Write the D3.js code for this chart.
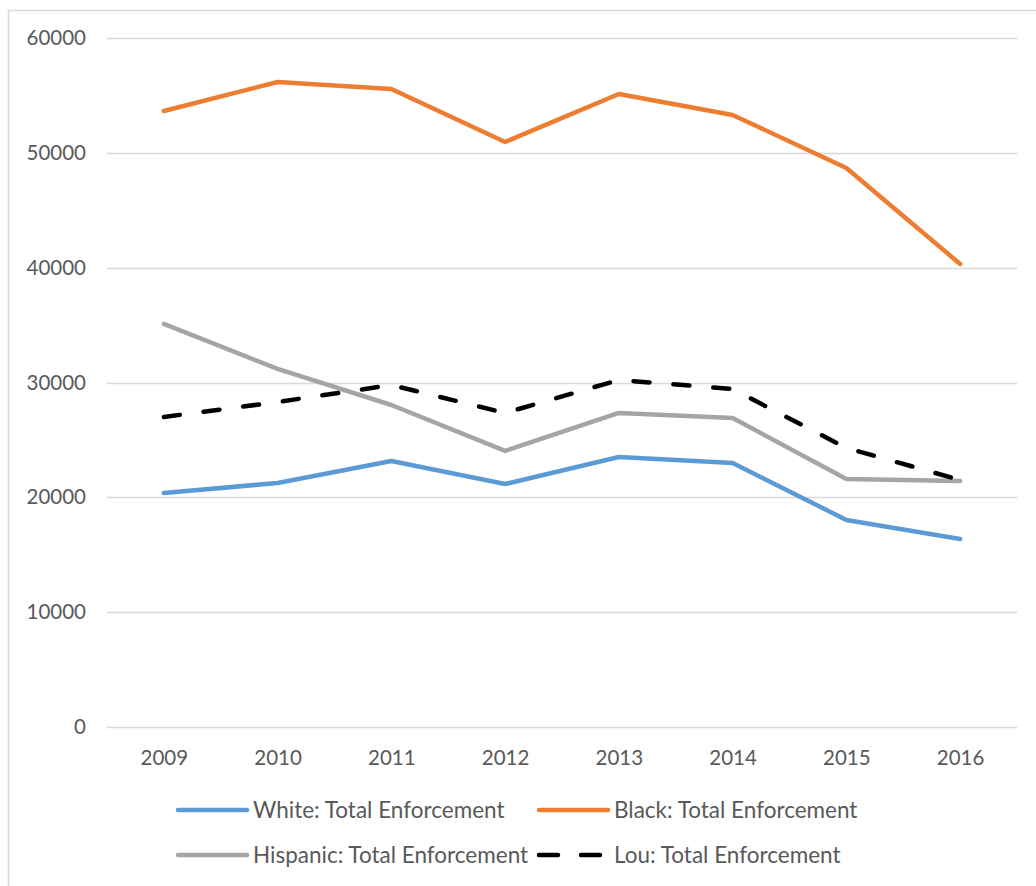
<!DOCTYPE html>
<html>
<head>
<meta charset="utf-8">
<script src="https://cdn.jsdelivr.net/npm/d3@7"></script>
<style>
  html, body { margin: 0; padding: 0; background: #fff; }
  svg { display: block; }
  text { font-family: Lato, "Open Sans", sans-serif; fill: #595959; }
</style>
</head>
<body>
<svg id="chart" width="1036" height="886"></svg>
<script>
// Enforcement counts by year and group
const years = ["2009", "2010", "2011", "2012", "2013", "2014", "2015", "2016"];
const white    = [20380, 21250, 23160, 21160, 23510, 22990, 18030, 16370];
const black    = [53640, 56170, 55560, 50950, 55120, 53300, 48680, 40320];
const hispanic = [35100, 31180, 28040, 24040, 27350, 26910, 21600, 21420];
const lou      = [27000, 28300, 29780, 27350, 30220, 29430, 24300, 21510];
const yTicks   = [0, 10000, 20000, 30000, 40000, 50000, 60000];

const series = [
  { name: "White: Total Enforcement",    values: white,    color: "#5B9BD5", dash: null },
  { name: "Black: Total Enforcement",    values: black,    color: "#ED7D31", dash: null },
  { name: "Hispanic: Total Enforcement", values: hispanic, color: "#A5A5A5", dash: null },
  { name: "Lou: Total Enforcement",      values: lou,      color: "#000000", dash: "16,24" }
];

const svg = d3.select("#chart");
const font = "Lato, 'Open Sans', sans-serif";

// Outer chart border (frame continues past the right and bottom edges)
svg.append("rect")
  .attr("x", 8.5).attr("y", 10.5)
  .attr("width", 1100).attr("height", 1000)
  .attr("fill", "none").attr("stroke", "#D9D9D9").attr("stroke-width", 1.5);

const plot = { left: 107, right: 1017, top: 38, bottom: 727 };

const x = d3.scalePoint().domain(years)
  .range([plot.left, plot.right]).padding(0.5);
const y = d3.scaleLinear().domain([0, 60000]).range([plot.bottom, plot.top]);

// Horizontal gridlines
svg.append("g").selectAll("line").data(yTicks).join("line")
  .attr("x1", plot.left).attr("x2", plot.right)
  .attr("y1", d => Math.round(y(d)) + 0.5).attr("y2", d => Math.round(y(d)) + 0.5)
  .attr("stroke", "#D9D9D9").attr("stroke-width", 1.5);

// Y axis labels
const yAxis = d3.axisLeft(y).tickValues(yTicks).tickSize(0).tickPadding(0)
  .tickFormat(d3.format("d"));
const gy = svg.append("g").attr("transform", `translate(86,0)`).call(yAxis);
gy.select(".domain").remove();
gy.selectAll("text").attr("font-size", 20.5).attr("fill", "#595959")
  .style("font-family", font);

// X axis labels
const xAxis = d3.axisBottom(x).tickSize(0).tickPadding(0);
const gx = svg.append("g").attr("transform", `translate(0,750)`).call(xAxis);
gx.select(".domain").remove();
gx.selectAll("text").attr("font-size", 20.5).attr("fill", "#595959")
  .style("font-family", font);

// Series lines
const line = d3.line().x((d, i) => x(years[i])).y(d => y(d));
svg.append("g").selectAll("path").data(series).join("path")
  .attr("d", s => line(s.values))
  .attr("fill", "none")
  .attr("stroke", s => s.color)
  .attr("stroke-width", 4.5)
  .attr("stroke-linejoin", "round")
  .attr("stroke-linecap", "round")
  .attr("stroke-dasharray", s => s.dash);

// Legend: two rows, two columns
const legendPos = [
  { sx: 178, len: 69, tx: 253, ty: 810 },
  { sx: 539, len: 69, tx: 614, ty: 810 },
  { sx: 539, len: 61, tx: 614, ty: 855 }
];
legendPos.splice(2, 0, { sx: 178, len: 69, tx: 253, ty: 855 });
const lg = svg.append("g").selectAll("g").data(series).join("g");
lg.append("line")
  .attr("x1", (s, i) => legendPos[i].sx)
  .attr("x2", (s, i) => legendPos[i].sx + legendPos[i].len)
  .attr("y1", (s, i) => legendPos[i].ty).attr("y2", (s, i) => legendPos[i].ty)
  .attr("stroke", s => s.color).attr("stroke-width", 4.5)
  .attr("stroke-linecap", "round")
  .attr("stroke-dasharray", s => s.dash ? "19,23" : null);
lg.append("text")
  .attr("x", (s, i) => legendPos[i].tx)
  .attr("y", (s, i) => legendPos[i].ty).attr("dy", "0.35em")
  .attr("font-size", 22.5)
  .text(s => s.name);
</script>
</body>
</html>
